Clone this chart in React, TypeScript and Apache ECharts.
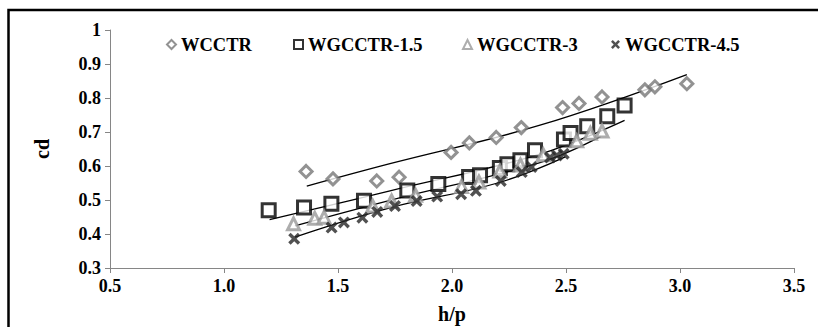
import React, { useEffect, useRef } from "react";
import * as echarts from "echarts";

const seriesNames = ["WCCTR", "WGCCTR-1.5", "WGCCTR-3", "WGCCTR-4.5"];

const wcctr: number[][] = [
  [1.36, 0.584], [1.478, 0.562], [1.67, 0.556], [1.768, 0.567], [1.996, 0.64],
  [2.076, 0.668], [2.194, 0.684], [2.304, 0.713], [2.485, 0.772], [2.557, 0.784],
  [2.658, 0.803], [2.846, 0.824], [2.89, 0.833], [3.03, 0.842],
];
const wgcctr15: number[][] = [
  [1.196, 0.47], [1.351, 0.478], [1.471, 0.489], [1.614, 0.498], [1.804, 0.528],
  [1.94, 0.547], [2.075, 0.568], [2.123, 0.573], [2.21, 0.594], [2.243, 0.605],
  [2.3, 0.617], [2.364, 0.646], [2.491, 0.678], [2.52, 0.697], [2.593, 0.717],
  [2.681, 0.746], [2.757, 0.778],
];
const wgcctr3: number[][] = [
  [1.305, 0.43], [1.398, 0.446], [1.439, 0.449], [1.652, 0.482], [1.735, 0.497],
  [1.84, 0.514], [2.042, 0.54], [2.118, 0.553], [2.21, 0.585], [2.3, 0.603],
  [2.4, 0.633], [2.547, 0.674], [2.607, 0.696], [2.658, 0.703],
];
const wgcctr45: number[][] = [
  [1.308, 0.386], [1.472, 0.419], [1.526, 0.434], [1.607, 0.448], [1.672, 0.465],
  [1.75, 0.482], [1.845, 0.497], [1.935, 0.51], [2.04, 0.517], [2.105, 0.527],
  [2.214, 0.556], [2.306, 0.582], [2.349, 0.597], [2.43, 0.625], [2.46, 0.631],
  [2.49, 0.636],
];

// trend lines
const trendWcctr: number[][] = [[1.363, 0.541], [1.728, 0.607], [2.386, 0.72], [3.03, 0.869]];
const trend15: number[][] = [[1.2, 0.442], [1.728, 0.527], [2.386, 0.635], [2.757, 0.734]];
const trend3: number[][] = [[1.311, 0.424], [1.728, 0.499], [2.386, 0.61], [2.653, 0.687]];
const trend45: number[][] = [[1.311, 0.391], [1.728, 0.477], [2.2, 0.55], [2.497, 0.627]];

const xMin = 0.5, xMax = 3.5, xStep = 0.5;
const yMin = 0.3, yMax = 1, yStep = 0.1;

const FONT = "Liberation Serif";
const crossPath =
  "path://M0,2 L2,0 L5,3 L8,0 L10,2 L7,5 L10,8 L8,10 L5,7 L2,10 L0,8 L3,5 Z";

const legendLefts = [166, 293, 462, 611];

export default function App() {
  const ref = useRef<HTMLDivElement>(null);
  useEffect(() => {
    if (!ref.current) return;
    const chart = echarts.init(ref.current, undefined, { renderer: "svg" });
    const trendStyle = { color: "#000", width: 1.3 };
    const trend = (data: number[][]) => ({
      type: "line",
      data,
      smooth: 0.4,
      showSymbol: false,
      symbol: "none",
      lineStyle: trendStyle,
      silent: true,
      z: 1,
    });
    const labelText = {
      fontFamily: FONT,
      fontWeight: "bold",
      fontSize: 18,
      color: "#000",
    };
    chart.setOption({
      animation: false,
      backgroundColor: "#fff",
      textStyle: { fontFamily: FONT },
      graphic: [
        {
          type: "rect",
          shape: { x: 8.5, y: 10, width: 830, height: 340 },
          style: { fill: "none", stroke: "#000", lineWidth: 2.5 },
          silent: true,
        },
      ],
      grid: {
        left: 110,
        right: 24,
        top: 30,
        bottom: 59,
        containLabel: false,
        outerBoundsMode: "none",
      },
      legend: seriesNames.map((n, i) => ({
        data: [n],
        left: legendLefts[i],
        top: 35,
        padding: 0,
        itemWidth: 9,
        itemHeight: 9,
        textStyle: { ...labelText, fontSize: 18.5 },
      })),
      xAxis: {
        type: "value",
        min: xMin,
        max: xMax,
        interval: xStep,
        name: "h/p",
        nameLocation: "middle",
        nameGap: 36,
        nameTextStyle: { ...labelText, fontSize: 20 },
        axisLine: { lineStyle: { color: "#868686", width: 1 } },
        axisTick: { show: true, length: 5, lineStyle: { color: "#868686" } },
        splitLine: { show: false },
        axisLabel: {
          ...labelText,
          formatter: (v: number) => v.toFixed(1),
          margin: 9,
        },
      },
      yAxis: {
        type: "value",
        min: yMin,
        max: yMax,
        interval: yStep,
        name: "cd",
        nameLocation: "middle",
        nameGap: 58,
        nameTextStyle: { ...labelText, fontSize: 20 },
        axisLine: { show: true, lineStyle: { color: "#868686", width: 1 } },
        axisTick: { show: true, length: 5, lineStyle: { color: "#868686" } },
        splitLine: { show: false },
        axisLabel: {
          ...labelText,
          formatter: (v: number) => (Math.abs(v - 1) < 1e-9 ? "1" : v.toFixed(1)),
          margin: 9,
        },
      },
      series: [
        trend(trendWcctr),
        trend(trend15),
        trend(trend3),
        trend(trend45),
        {
          name: seriesNames[0],
          type: "scatter",
          data: wcctr,
          symbol: "diamond",
          symbolSize: 12,
          itemStyle: { color: "#fff", borderColor: "#777", borderWidth: 3 },
          z: 3,
        },
        {
          name: seriesNames[1],
          type: "scatter",
          data: wgcctr15,
          symbol: "rect",
          symbolSize: 13,
          itemStyle: { color: "#fff", borderColor: "#000", borderWidth: 3 },
          z: 3,
        },
        {
          name: seriesNames[2],
          type: "scatter",
          data: wgcctr3,
          symbol: "triangle",
          symbolSize: 12,
          itemStyle: { color: "#fff", borderColor: "#999", borderWidth: 3 },
          z: 4,
        },
        {
          name: seriesNames[3],
          type: "scatter",
          data: wgcctr45,
          symbol: crossPath,
          symbolSize: 12,
          itemStyle: { color: "#262626" },
          z: 5,
        },
      ],
    });
    return () => chart.dispose();
  }, []);
  return (
    <div
      ref={ref}
      style={{ position: "fixed", left: 0, top: 0, width: 818, height: 327, background: "#fff" }}
    />
  );
}
